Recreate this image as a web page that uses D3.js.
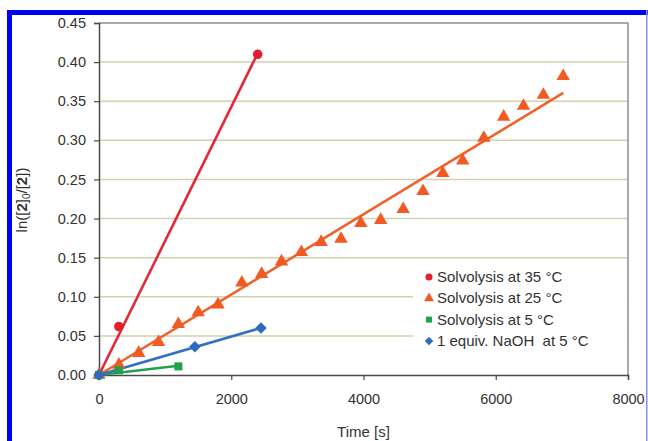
<!DOCTYPE html>
<html>
<head>
<meta charset="utf-8">
<script src="https://cdn.jsdelivr.net/npm/d3@7"></script>
<style>
  body { margin: 0; background: #fff; }
  svg { display: block; font-family: "Liberation Sans", Arial, sans-serif; }
</style>
</head>
<body>
<div id="chart"></div>
<script>
// data
var redTime = [0, 300, 2400];
var redVal = [0, 0.062, 0.41];

var orangeTime = [0, 300, 600, 900, 1200, 1500, 1800, 2160, 2460, 2760, 3060, 3360, 3660, 3960,
    4260, 4600, 4900, 5200, 5500, 5820, 6120, 6420, 6720, 7020];
var orangeVal = [0, 0.013, 0.028, 0.042, 0.065, 0.080, 0.090, 0.118, 0.129, 0.145, 0.157, 0.170, 0.174, 0.194,
    0.198, 0.212, 0.235, 0.258, 0.274, 0.303, 0.330, 0.344, 0.358, 0.382];

var greenTime = [0, 300, 1200];
var greenVal = [0, 0.006, 0.011];

var blueTime = [0, 1450, 2450];
var blueVal = [0, 0.036, 0.060];

var seriesNames = ["Solvolysis at 35 °C", "Solvolysis at 25 °C", "Solvolysis at 5 °C", "1 equiv. NaOH  at 5 °C"];
var xTicks = [0, 2000, 4000, 6000, 8000];
var yTicks = [0, 0.05, 0.10, 0.15, 0.20, 0.25, 0.30, 0.35, 0.40, 0.45];

var W = 648, H = 441;
var plot = { left: 99, right: 628, top: 23, bottom: 375 };

var svg = d3.select("#chart").append("svg")
    .attr("width", W)
    .attr("height", H);

var x = d3.scaleLinear().domain([0, 8000]).range([plot.left, plot.right]);
var y = d3.scaleLinear().domain([0, 0.45]).range([plot.bottom, plot.top]);

//blue frame round the figure
svg.append("rect").attr("x", 7).attr("y", 10).attr("width", W - 7).attr("height", 5).attr("fill", "#0000f5");
svg.append("rect").attr("x", 7).attr("y", 10).attr("width", 5).attr("height", H - 10).attr("fill", "#0000f5");
svg.append("rect").attr("x", 646).attr("y", 10).attr("width", 1.5).attr("height", H - 10).attr("fill", "#8a8cf0");

//gridlines
svg.selectAll(".grid")
    .data(yTicks.filter(d => d > 0 && d < 0.45))
    .enter().append("line")
    .attr("class", "grid")
    .attr("x1", plot.left).attr("x2", plot.right)
    .attr("y1", d => y(d)).attr("y2", d => y(d))
    .attr("stroke", "#d5d0b0")
    .attr("stroke-width", 1.5);

//top and right frame
svg.append("path")
    .attr("d", "M" + plot.left + "," + plot.top + "H" + plot.right + "V" + plot.bottom)
    .attr("fill", "none")
    .attr("stroke", "#8f8f8f")
    .attr("stroke-width", 1.5);

//axes
var yAxis = svg.append("g")
    .attr("transform", "translate(" + plot.left + ",0)")
    .call(d3.axisLeft(y).tickValues(yTicks).tickFormat(d3.format(".2f")).tickSize(5).tickPadding(8));
var xAxis = svg.append("g")
    .attr("transform", "translate(0," + plot.bottom + ")")
    .call(d3.axisBottom(x).tickValues(xTicks).tickFormat(d3.format("d")).tickSize(5).tickPadding(14));

[xAxis, yAxis].forEach(function(a) {
    a.select(".domain").attr("stroke", "#4a4a4a").attr("stroke-width", 1.5);
    a.selectAll(".tick line").attr("stroke", "#4a4a4a").attr("stroke-width", 1.2);
    a.selectAll("text").attr("fill", "#333").style("font-size", "14.5px").style("font-family", "Liberation Sans, Arial, sans-serif");
});

//axis titles
svg.append("text")
    .attr("x", (plot.left + plot.right) / 2)
    .attr("y", 437)
    .attr("text-anchor", "middle")
    .attr("fill", "#333")
    .style("font-size", "15px")
    .text("Time [s]");

var yTitle = svg.append("text")
    .attr("transform", "translate(27,200) rotate(-90)")
    .attr("text-anchor", "middle")
    .attr("fill", "#333")
    .style("font-size", "15px");
yTitle.append("tspan").text("ln([");
yTitle.append("tspan").attr("font-weight", "bold").text("2");
yTitle.append("tspan").text("]");
yTitle.append("tspan").attr("dy", 3).style("font-size", "10px").text("0");
yTitle.append("tspan").attr("dy", -3).text("/[");
yTitle.append("tspan").attr("font-weight", "bold").text("2");
yTitle.append("tspan").text("])");

//series setup (diamond = square turned 45 degrees)
var series = [
    { time: redTime, val: redVal, color: "#e31f2e", line: "#e1293a", sym: d3.symbolCircle, size: 72, rot: 0 },
    { time: orangeTime, val: orangeVal, color: "#f15a22", line: "#f0622a", sym: d3.symbolTriangle, size: 78, rot: 0 },
    { time: greenTime, val: greenVal, color: "#1fa04c", line: "#23a04f", sym: d3.symbolSquare, size: 64, rot: 0 },
    { time: blueTime, val: blueVal, color: "#2b6cc0", line: "#2f70c2", sym: d3.symbolSquare, size: 66, rot: 45 }
];

//linear fit through the origin, drawn to the last time
function fitLine(s) {
    var sxy = d3.sum(s.time, (t, i) => t * s.val[i]);
    var sxx = d3.sum(s.time, t => t * t);
    var k = sxy / sxx;
    var tMax = d3.max(s.time);
    return [[0, 0], [tMax, k * tMax]];
}

var line = d3.line().x(d => x(d[0])).y(d => y(d[1]));

series.forEach(function(s) {
    svg.append("path")
        .datum(fitLine(s))
        .attr("d", line)
        .attr("fill", "none")
        .attr("stroke", s.line)
        .attr("stroke-width", 2.6);
});

series.forEach(function(s) {
    svg.selectAll(null)
        .data(s.time.map((t, i) => [t, s.val[i]]))
        .enter().append("path")
        .attr("d", d3.symbol().type(s.sym).size(s.size))
        .attr("transform", d => "translate(" + x(d[0]) + "," + y(d[1]) + ") rotate(" + s.rot + ")")
        .attr("fill", s.color);
});

//legend
var legend = svg.append("g");
legend.append("rect")
    .attr("x", 413).attr("y", 263)
    .attr("width", 214).attr("height", 110)
    .attr("fill", "#fff");

seriesNames.forEach(function(name, i) {
    var s = series[i];
    var ly = 277 + i * 21.3;
    legend.append("path")
        .attr("d", d3.symbol().type(s.sym).size(s.size * 0.55))
        .attr("transform", "translate(429," + ly + ") rotate(" + s.rot + ")")
        .attr("fill", s.color);
    legend.append("text")
        .attr("x", 437)
        .attr("y", ly + 5)
        .attr("fill", "#333")
        .style("font-size", "15px")
        .style("white-space", "pre")
        .text(name);
});
</script>
</body>
</html>
